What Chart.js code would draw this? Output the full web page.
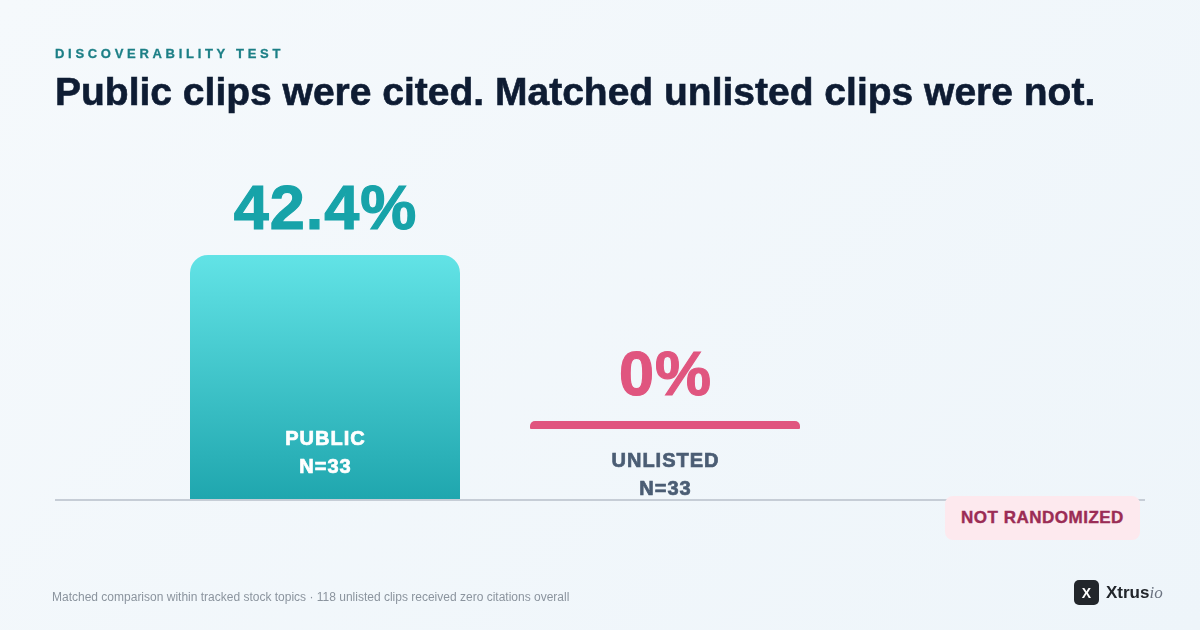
<!DOCTYPE html>
<html>
<head>
<meta charset="utf-8">
<script src="https://cdn.jsdelivr.net/npm/chart.js@4"></script>
<style>
  html, body { margin: 0; padding: 0; }
  body {
    width: 1200px; height: 630px; overflow: hidden; position: relative;
    background: linear-gradient(135deg, #f5f9fc 0%, #eef5fa 100%);
    font-family: "Liberation Sans", Arial, sans-serif;
  }
  #wrap { position: absolute; left: 0; top: 0; width: 1200px; height: 630px; }
  .kicker {
    position: absolute; left: 55px; top: 46px;
    font-size: 13px; font-weight: bold; letter-spacing: 3.7px; color: #1c7f86;
    -webkit-text-stroke: 0.3px #1c7f86;
  }
  h1 {
    position: absolute; left: 55px; top: 70px; margin: 0;
    font-size: 39px; font-weight: bold; color: #0e1c33; letter-spacing: 0;
    -webkit-text-stroke: 0.6px #0e1c33;
  }
  .badge {
    position: absolute; left: 945px; top: 496px; width: 195px; height: 44px;
    background: #fde9ee; border-radius: 8px;
    color: #9b2c55; font-weight: bold; font-size: 17px; letter-spacing: 0.5px;
    -webkit-text-stroke: 0.4px #9b2c55;
    display: flex; align-items: center; justify-content: center;
  }
  .foot {
    position: absolute; left: 52px; top: 590px;
    font-size: 12px; color: #8b949e;
  }
  .logo { position: absolute; left: 1074px; top: 580px; display: flex; align-items: center; }
  .logo .mark {
    width: 25px; height: 25px; border-radius: 5px; background: #22262b; color: #fff;
    font-weight: bold; font-size: 14px; display: flex; align-items: center; justify-content: center;
  }
  .logo .name { margin-left: 7px; font-weight: bold; font-size: 17px; color: #22262b; }
  .logo .name i { font-family: "Liberation Serif", serif; font-weight: normal; color: #6b7380; }
</style>
</head>
<body>
<div id="wrap"><canvas id="myChart"></canvas></div>
<div class="kicker">DISCOVERABILITY TEST</div>
<h1>Public clips were cited. Matched unlisted clips were not.</h1>
<div class="badge">NOT RANDOMIZED</div>
<div class="foot">Matched comparison within tracked stock topics · 118 unlisted clips received zero citations overall</div>
<div class="logo"><div class="mark">X</div><div class="name">Xtrus<i>io</i></div></div>
<script>
const categories = ['PUBLIC', 'UNLISTED'];
const sampleSizes = [33, 33];
const citedShare = [42.4, 0];
const valueLabels = ['42.4%', '0%'];
const valueColors = ['#17a3a9', '#e0557f'];

// zero bars get a thin stub lifted above their labels
const stubLift = 71;
const stubHeight = 8;

const labelsPlugin = {
  id: 'barLabels',
  afterDatasetsDraw(chart) {
    const ctx = chart.ctx;
    const area = chart.chartArea;
    const meta = chart.getDatasetMeta(0);
    const base = area.bottom;

    ctx.save();
    // baseline
    ctx.strokeStyle = '#c6cdd6';
    ctx.lineWidth = 2;
    ctx.beginPath();
    ctx.moveTo(55, base);
    ctx.lineTo(1145, base);
    ctx.stroke();

    meta.data.forEach((bar, i) => {
      const w = bar.width;
      let top = bar.y;
      let inside = true;
      if (citedShare[i] === 0) {
        top = base - stubLift - stubHeight;
        inside = false;
        ctx.fillStyle = valueColors[i];
        ctx.beginPath();
        ctx.roundRect(bar.x - w / 2, top, w, stubHeight, [5, 5, 1, 1]);
        ctx.fill();
      }
      ctx.textAlign = 'center';
      ctx.textBaseline = 'middle';
      ctx.fillStyle = valueColors[i];
      ctx.strokeStyle = valueColors[i];
      ctx.lineWidth = 1.2;
      ctx.letterSpacing = '1px';
      ctx.font = 'bold 63px "Liberation Sans", Arial, sans-serif';
      ctx.fillText(valueLabels[i], bar.x + 0.5, top - 43);
      ctx.strokeText(valueLabels[i], bar.x + 0.5, top - 43);

      const c = inside ? '#ffffff' : '#4b5d74';
      ctx.font = 'bold 20px "Liberation Sans", Arial, sans-serif';
      ctx.letterSpacing = '1px';
      ctx.fillStyle = c;
      ctx.strokeStyle = c;
      ctx.lineWidth = 0.7;
      const y0 = inside ? base - 61 : base - 39;
      [categories[i], 'N=' + sampleSizes[i]].forEach((t, k) => {
        ctx.fillText(t, bar.x + 0.5, y0 + 28 * k);
        ctx.strokeText(t, bar.x + 0.5, y0 + 28 * k);
      });
    });
    ctx.restore();
  }
};

const ctx = document.getElementById('myChart').getContext('2d');
const myChart = new Chart(ctx, {
  type: 'bar',
  data: {
    labels: categories,
    datasets: [{
      data: citedShare,
      backgroundColor: (c) => {
        if (c.dataIndex === 1) return 'rgba(0,0,0,0)';
        const a = c.chart.chartArea;
        if (!a) return '#3cc4ca';
        const g = c.chart.ctx.createLinearGradient(0, a.top + 44, 0, a.bottom);
        g.addColorStop(0, '#62e3e6');
        g.addColorStop(1, '#1fa6ae');
        return g;
      },
      borderRadius: { topLeft: 18, topRight: 18, bottomLeft: 0, bottomRight: 0 },
      borderSkipped: 'bottom',
      barPercentage: 270 / 340,
      categoryPercentage: 1
    }]
  },
  options: {
    responsive: true,
    maintainAspectRatio: false,
    animation: false,
    layout: { padding: { left: 155, right: 365, top: 211, bottom: 130 } },
    plugins: { legend: { display: false }, tooltip: { enabled: false } },
    scales: {
      x: { display: false },
      y: { display: false, min: 0, max: 50 }
    }
  },
  plugins: [labelsPlugin]
});
</script>
</body>
</html>
